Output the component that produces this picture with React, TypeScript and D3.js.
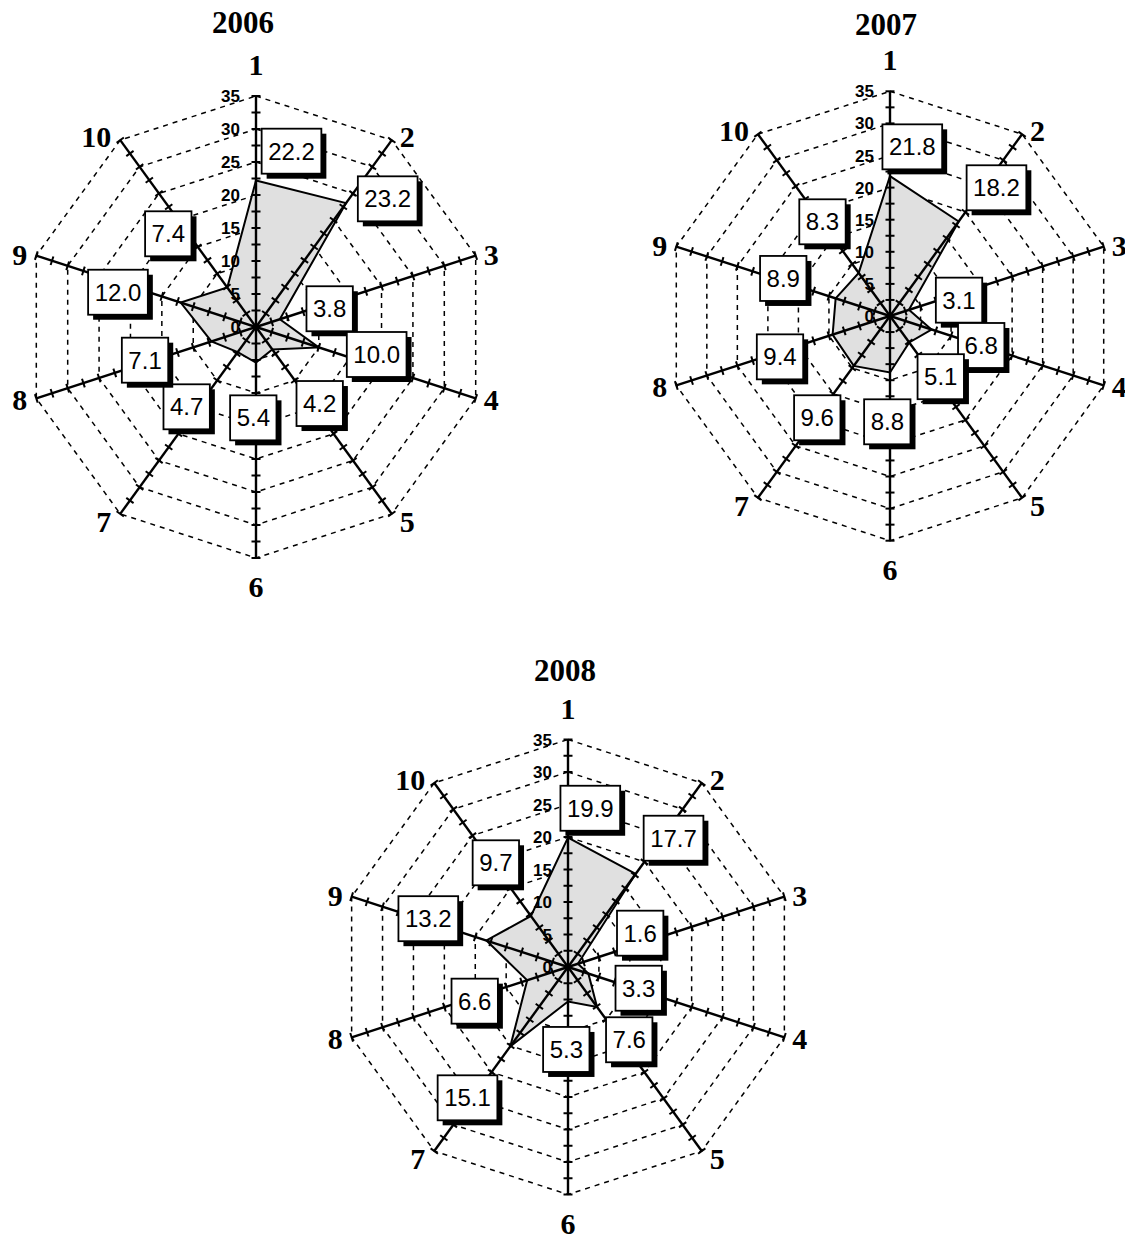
import * as d3 from "d3";

const categories = ["1", "2", "3", "4", "5", "6", "7", "8", "9", "10"];
const tickLabels = [0, 5, 10, 15, 20, 25, 30, 35];

const values2006 = [22.2, 23.2, 3.8, 10.0, 4.2, 5.4, 4.7, 7.1, 12.0, 7.4];
const values2007 = [21.8, 18.2, 3.1, 6.8, 5.1, 8.8, 9.6, 9.4, 8.9, 8.3];
const values2008 = [19.9, 17.7, 1.6, 3.3, 7.6, 5.3, 15.1, 6.6, 13.2, 9.7];

// where each value box sits relative to its point (px)
const offsets2006 = [[35.5, -29.3], [41.7, -4.3], [49.8, -10.5], [57.9, 7.1], [47.4, 54.1], [-2.7, 55.2], [-51.1, 54.7], [-66.4, 18.7], [-62.7, -10.3], [-59, -53.7]];
const offsets2007 = [[22.3, -29.2], [37.8, -33.7], [50.1, -9.7], [49.7, 16], [31.5, 34.2], [-2.7, 49.3], [-36.5, 51.9], [-52.6, 22.2], [-52.4, -19.9], [-36.2, -51.1]];
const offsets2008 = [[22.3, -29.4], [37.9, -35.7], [62.3, -30.6], [50.3, 14.6], [32.2, 32.8], [-1.7, 48], [-42.8, 51.4], [-52.5, 20.9], [-58.1, -21.8], [-35.1, -53.2]];

const charts = [
  { title: "2006", values: values2006, offsets: offsets2006, cx: 256, cy: 327, r: 231, titleX: 243, titleY: 22 },
  { title: "2007", values: values2007, offsets: offsets2007, cx: 890, cy: 316, r: 224.7, titleX: 886, titleY: 24 },
  { title: "2008", values: values2008, offsets: offsets2008, cx: 568, cy: 967, r: 227.5, titleX: 565, titleY: 670 },
];

const SERIF = "'Liberation Serif', 'Times New Roman', serif";
const SANS = "'Liberation Sans', Arial, sans-serif";

const textWidth = (s: string) =>
  s.split("").reduce((w, ch) => w + (ch === "." ? 6.67 : 13.35), 0);

const Radar = ({ title, values, offsets, cx, cy, r, titleX, titleY }: any) => {
  const n = categories.length;
  const angle = (i: number) => (i * 2 * Math.PI) / n;
  const rScale = d3.scaleLinear().domain([0, 35]).range([0, r]);

  const ring = d3
    .lineRadial<number>()
    .angle((_, i) => angle(i))
    .radius((d) => rScale(d))
    .curve(d3.curveLinearClosed);

  const minor = d3.range(2.5, 35.01, 2.5);

  return (
    <g transform={`translate(${cx},${cy})`}>
      <text x={titleX - cx} y={titleY - cy + 11} textAnchor="middle" fontFamily={SERIF} fontWeight="bold" fontSize={31}>
        {title}
      </text>

      {tickLabels.slice(1).map((t) => (
        <path key={t} d={ring(categories.map(() => t)) || ""} fill="none" stroke="#000" strokeWidth={1.5} strokeDasharray="5,5" />
      ))}

      <path d={ring(values) || ""} fill="#e0e0e0" stroke="none" />

      {categories.map((c, i) => {
        const a = angle(i);
        const [ex, ey] = d3.pointRadial(a, r);
        const ux = Math.sin(a);
        const uy = -Math.cos(a);
        return (
          <g key={c}>
            <line x1={0} y1={0} x2={ex} y2={ey} stroke="#000" strokeWidth={2.4} />
            {minor.map((m) => {
              const [px, py] = d3.pointRadial(a, rScale(m));
              return (
                <line key={m} x1={px - uy * 4.5} y1={py + ux * 4.5} x2={px + uy * 4.5} y2={py - ux * 4.5} stroke="#000" strokeWidth={2} />
              );
            })}
          </g>
        );
      })}

      <path d={ring(values) || ""} fill="none" stroke="#000" strokeWidth={2} strokeLinejoin="miter" />

      {tickLabels.map((t) => (
        <text key={t} x={-16} y={-rScale(t) + 6} textAnchor="end" fontFamily={SANS} fontWeight="bold" fontSize={17}>
          {t}
        </text>
      ))}

      {categories.map((c, i) => {
        const [ex, ey] = d3.pointRadial(angle(i), r);
        let x = ex;
        let y = ey;
        let anchor = "middle";
        if (i === 0) y = ey - 21;
        else if (i === 5) y = ey + 39;
        else {
          const dy = [0, -3, -1, 2, 8][i < 5 ? i : 10 - i];
          y = ey + dy + 10;
          if (i < 5) {
            x = ex + 8;
            anchor = "start";
          } else {
            x = ex - 9;
            anchor = "end";
          }
        }
        return (
          <text key={c} x={x} y={y} textAnchor={anchor} fontFamily={SERIF} fontWeight="bold" fontSize={30}>
            {c}
          </text>
        );
      })}

      {values.map((v: number, i: number) => {
        const [px, py] = d3.pointRadial(angle(i), rScale(v));
        const label = v.toFixed(1);
        const w = textWidth(label) + 13;
        const h = 45;
        const bx = px + offsets[i][0];
        const by = py + offsets[i][1];
        return (
          <g key={i}>
            <rect x={bx - w / 2 + 5} y={by - h / 2 + 5} width={w} height={h} fill="#000" />
            <rect x={bx - w / 2} y={by - h / 2} width={w} height={h} fill="#fff" stroke="#000" strokeWidth={1.8} />
            <text x={bx} y={by + 8.6} textAnchor="middle" fontFamily={SANS} fontSize={24}>
              {label}
            </text>
          </g>
        );
      })}
    </g>
  );
};

export default function App() {
  return (
    <svg width={1125} height={1237} style={{ position: "absolute", left: 0, top: 0, background: "#fff" }}>
      {charts.map((c) => (
        <Radar key={c.title} {...c} />
      ))}
    </svg>
  );
}
